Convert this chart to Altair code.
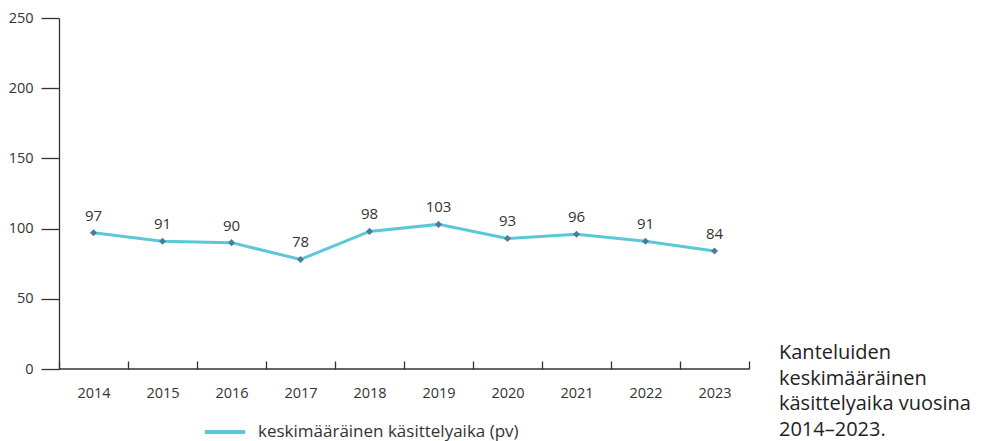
import altair as alt
import pandas as pd

years = ["2014", "2015", "2016", "2017", "2018", "2019", "2020", "2021", "2022", "2023"]
days = [97, 91, 90, 78, 98, 103, 93, 96, 91, 84]
series_name = "keskimääräinen käsittelyaika (pv)"
caption = ["Kanteluiden", "keskimääräinen", "käsittelyaika vuosina", "2014–2023."]

df = pd.DataFrame({"year": years, "days": days, "series": series_name})

W, H = 690, 351
FONT = "Open Sans"
TXT = "#333333"
LINE = "#5ac8d8"
MARK = "#4f7b9a"

x = alt.X("year:N", scale=alt.Scale(paddingInner=0, paddingOuter=0),
          axis=alt.Axis(title=None, tickBand="extent", domain=False, offset=-8,
                        tickSize=8, tickColor=TXT, tickWidth=1.3, labelAngle=0,
                        labelFontSize=14.5, labelColor=TXT, labelFont=FONT,
                        labelPadding=17))
y = alt.Y("days:Q", scale=alt.Scale(domain=[0, 250], nice=False),
          axis=alt.Axis(title=None, values=[0, 50, 100, 150, 200, 250], tickSize=18,
                        tickColor=TXT, tickWidth=1.3, domainColor=TXT, domainWidth=1.3,
                        labelFontSize=14.5, labelColor=TXT, labelFont=FONT,
                        labelPadding=8, grid=False))

base = alt.Chart(df)

line = base.mark_line(strokeWidth=3).encode(
    x=x, y=y,
    color=alt.Color("series:N", scale=alt.Scale(range=[LINE]),
                    legend=alt.Legend(title=None, orient="none", legendX=144, legendY=392,
                                      symbolType="stroke", symbolSize=1600,
                                      symbolStrokeWidth=4, labelFontSize=17,
                                      labelColor=TXT, labelFont=FONT, labelOffset=11,
                                      labelLimit=0)))

points = base.mark_point(shape="diamond", filled=True, size=50, color=MARK, opacity=1).encode(
    x="year:N", y="days:Q")

labels = base.mark_text(dy=-17, fontSize=15, color=TXT, font=FONT).encode(
    x="year:N", y="days:Q", text="days:Q")

baseline = alt.Chart(pd.DataFrame({"v": [0]})).mark_rule(color=TXT, strokeWidth=1.3).encode(
    y="v:Q", x=alt.value(0), x2=alt.value(W))

cap = alt.Chart(pd.DataFrame({"t": [caption]})).mark_text(
    align="left", baseline="top", fontSize=20, lineHeight=25.5, color="#222222",
    font=FONT).encode(
    text="t", x=alt.value(720), y=alt.value(325))

chart = alt.layer(baseline, line, points, labels, cap).properties(
    width=W, height=H,
    autosize=alt.AutoSizeParams(type="none"),
    padding={"left": 51, "top": 10, "right": 224, "bottom": 72},
).configure_view(stroke=None)

chart.save("out.html", embed_options={"renderer": "svg", "actions": False})
